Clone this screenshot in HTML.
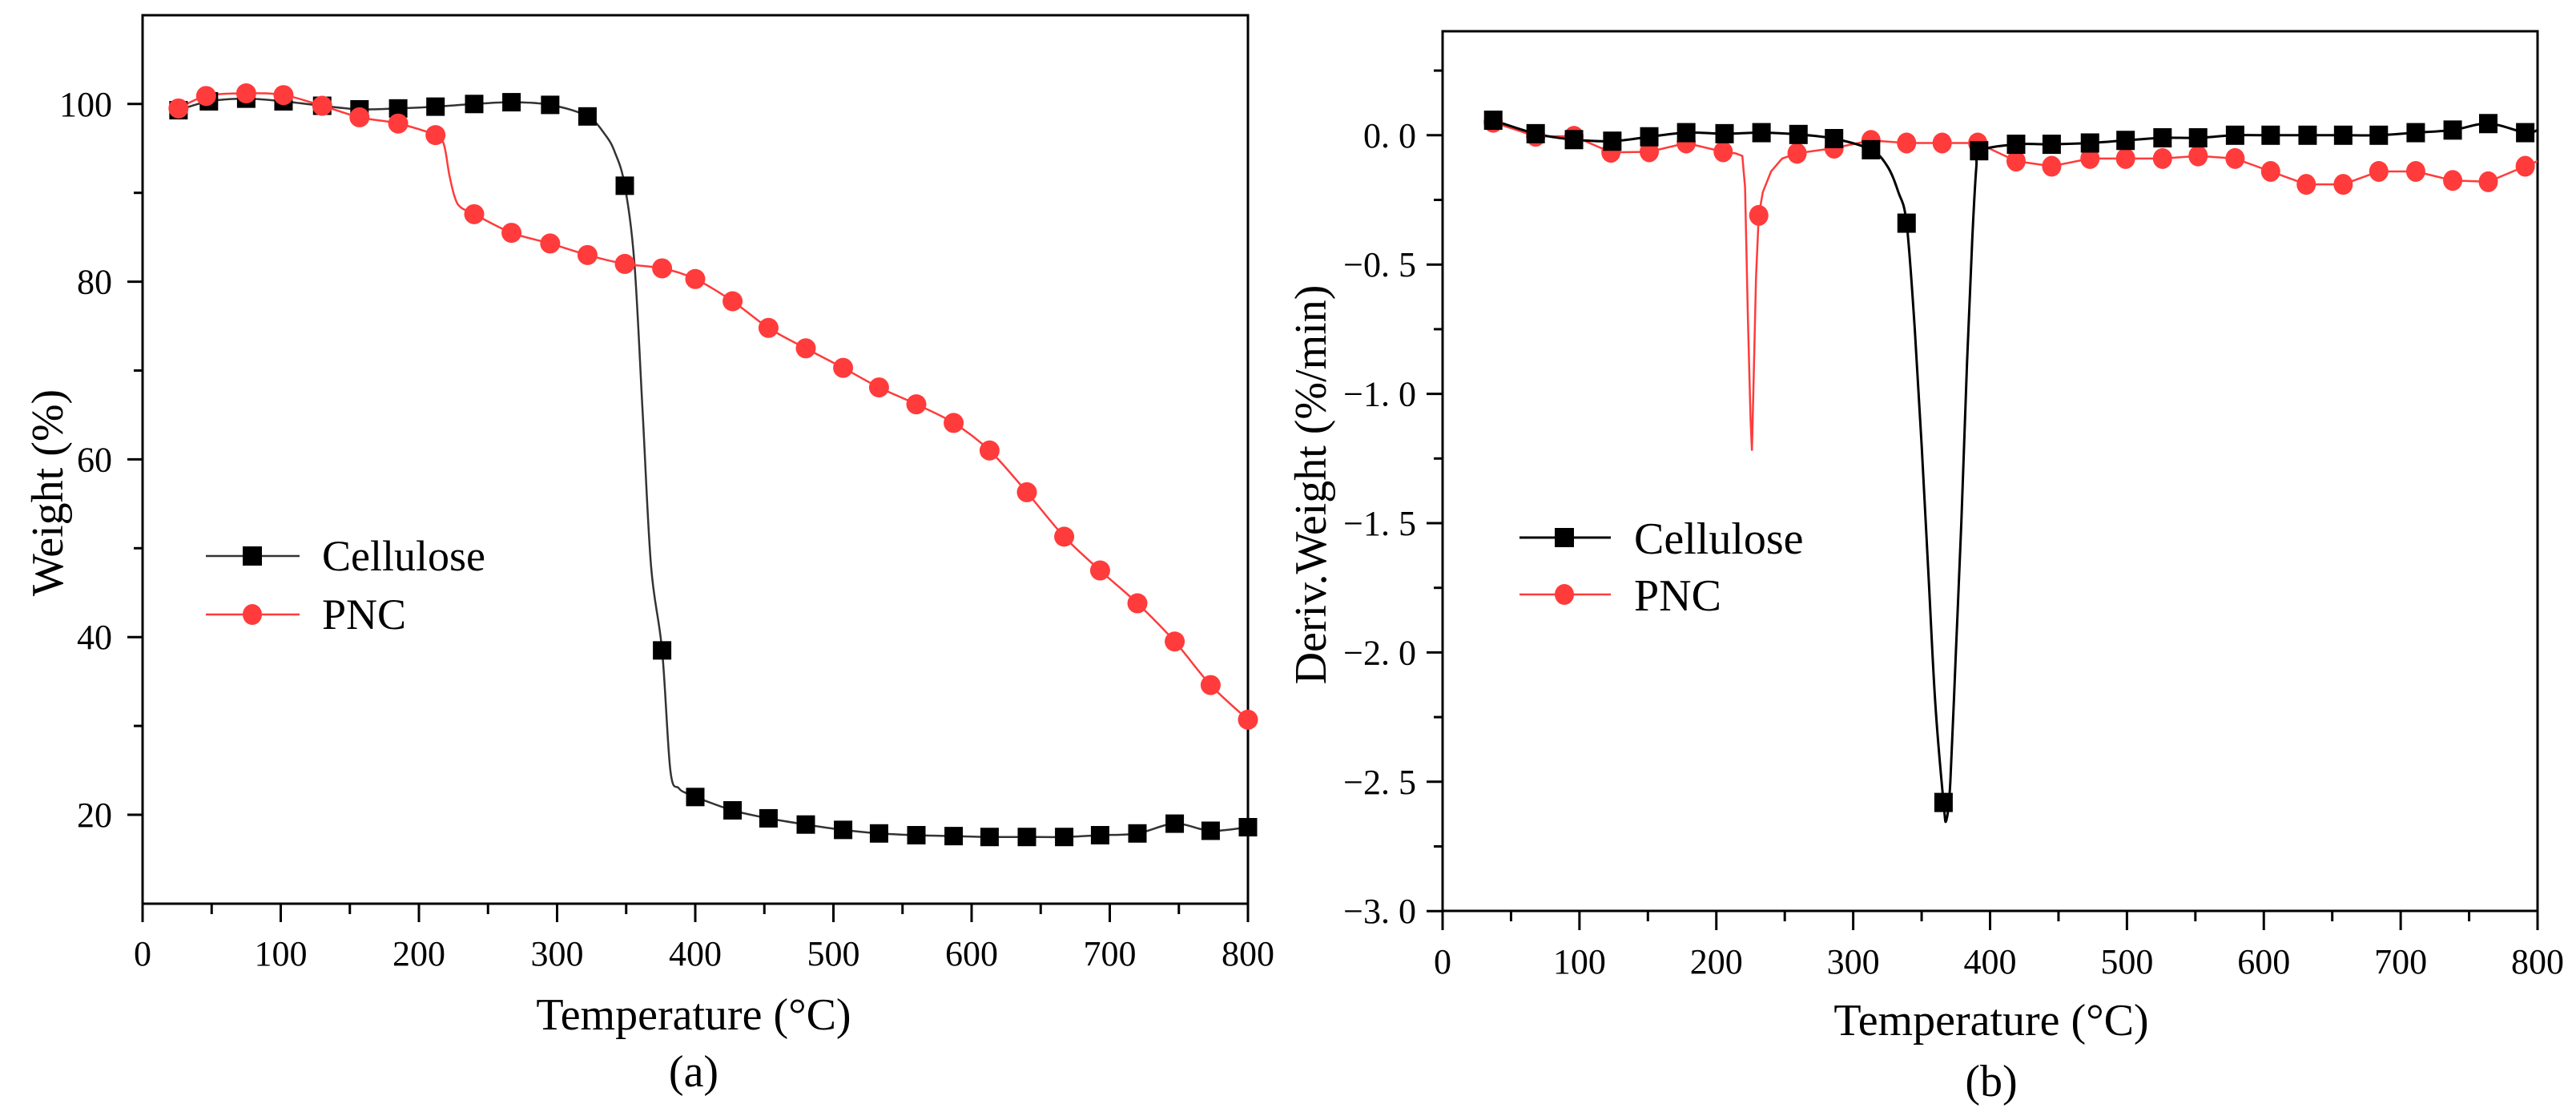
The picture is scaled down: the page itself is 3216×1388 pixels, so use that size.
<!DOCTYPE html>
<html><head><meta charset="utf-8"><style>
html,body{margin:0;padding:0;background:#fff;}
svg{display:block;}
svg text{font-family:"Liberation Serif","Noto Serif CJK SC",serif;fill:#000;}
</style></head><body>
<svg id="fig" width="3216" height="1388" viewBox="0 0 3216 1388" xmlns="http://www.w3.org/2000/svg" font-family="Liberation Serif, Noto Serif CJK SC, serif">
<g id="pa"></g>
<g id="pb"></g>
</svg>
<script>
// ---------- Panel (a) data ----------
const aCellT = [26,48,75,102,130,157,185,212,240,267,295,322,349,376,400,427,453,480,507,533,560,587,613,640,667,693,720,747,773,800];
const aCellW = [99.3,100.3,100.6,100.3,99.8,99.4,99.5,99.7,100,100.2,99.9,98.6,90.8,38.5,22,20.5,19.6,18.9,18.3,17.9,17.7,17.6,17.5,17.5,17.5,17.7,17.9,19,18.2,18.6];
const aCellExtraT = [335,342,356,362,368,382,388,394];
const aCellExtraW = [96.5,94.5,82,65,48,25,23,22.4];
const aPncT = [26,46,75,102,130,157,185,212,240,267,295,322,349,376,400,427,453,480,507,533,560,587,613,640,667,693,720,747,773,800];
const aPncW = [99.5,100.9,101.2,101,99.8,98.5,97.8,96.5,87.6,85.5,84.3,83,82,81.5,80.3,77.8,74.8,72.5,70.3,68.1,66.2,64.1,61,56.3,51.3,47.5,43.8,39.5,34.6,30.7];
const aPncExtraT = [218,222,226,230];
const aPncExtraW = [95.5,92,89.5,88.4];
const aXTicks = [0,100,200,300,400,500,600,700,800];
const aYTicks = [20,40,60,80,100];

// ---------- Panel (b) data ----------
const bCellT = [37,68,96,124,151,178,206,233,260,286,313,339,366,392,419,445,473,499,526,552,579,605,632,658,684,711,738,764,791];
const bCellD = [0.058,0.006,-0.017,-0.023,-0.006,0.01,0.006,0.01,0.003,-0.013,-0.056,-0.34,-2.58,-0.06,-0.035,-0.035,-0.03,-0.02,-0.01,-0.01,0,0,0,0,0,0.01,0.02,0.045,0.01];
const bCellExtraT = [325,333,345,350,355,360,368,371,375,379,383,387,390,800];
const bCellExtraD = [-0.12,-0.22,-0.75,-1.2,-1.7,-2.2,-2.65,-2.5,-2.0,-1.5,-0.9,-0.4,-0.12,0.02];
const bPncT = [37,68,96,123,151,178,205,231,259,286,313,339,365,391,419,445,473,499,526,552,579,605,631,658,684,711,738,764,791];
const bPncD = [0.05,-0.004,-0.004,-0.066,-0.064,-0.03,-0.064,-0.31,-0.07,-0.05,-0.02,-0.03,-0.03,-0.03,-0.1,-0.12,-0.09,-0.09,-0.09,-0.08,-0.09,-0.14,-0.19,-0.19,-0.14,-0.14,-0.175,-0.18,-0.12];
const bPncExtraT = [214,219,221,223,225,226,227,229,234,240,248,800];
const bPncExtraD = [-0.07,-0.08,-0.2,-0.7,-1.1,-1.22,-1.0,-0.55,-0.22,-0.14,-0.09,-0.1];
const bXTicks = [0,100,200,300,400,500,600,700,800];
const bYTicks = [0,-0.5,-1,-1.5,-2,-2.5,-3];
const bYLabels = ["0. 0","\u22120. 5","\u22121. 0","\u22121. 5","\u22122. 0","\u22122. 5","\u22123. 0"];

const NS = "http://www.w3.org/2000/svg";
const RED = "#ff3b3b";
const FF = "Liberation Serif, Noto Serif CJK SC, serif";
function mk(parent, tag, attrs, txt){
  const e = document.createElementNS(NS, tag);
  for (const k in attrs) e.setAttribute(k, attrs[k]);
  if (tag === 'text') e.setAttribute('font-family', FF);
  if (txt !== undefined) e.textContent = txt;
  parent.appendChild(e);
  return e;
}
function merge(t1,v1,t2,v2){
  const pts = t1.map((t,i)=>[t,v1[i]]).concat(t2.map((t,i)=>[t,v2[i]]));
  pts.sort((a,b)=>a[0]-b[0]);
  return pts;
}
function smoothPath(pts, X, Y){
  const p = pts.map(q=>[X(q[0]),Y(q[1])]);
  let d = "M"+p[0][0].toFixed(1)+","+p[0][1].toFixed(1);
  for (let i=0;i<p.length-1;i++){
    const p0=p[Math.max(0,i-1)], p1=p[i], p2=p[i+1], p3=p[Math.min(p.length-1,i+2)];
    const t=1/6;
    const c1=[p1[0]+(p2[0]-p0[0])*t, p1[1]+(p2[1]-p0[1])*t];
    const c2=[p2[0]-(p3[0]-p1[0])*t, p2[1]-(p3[1]-p1[1])*t];
    d+=" C"+c1[0].toFixed(1)+","+c1[1].toFixed(1)+" "+c2[0].toFixed(1)+","+c2[1].toFixed(1)+" "+p2[0].toFixed(1)+","+p2[1].toFixed(1);
  }
  return d;
}

// ================= Panel A =================
(function(){
  const g = document.getElementById('pa');
  const L=178, R=1558, T=19, B=1128;
  const X = t => L + (t-0)/800*(R-L);
  const Y = v => 1017 - (v-20)*11.09;
  const frame = mk(g,'rect',{x:L,y:T,width:R-L,height:B-T,fill:'none',stroke:'#000','stroke-width':3});
  
  
  for (let t=0;t<=800;t+=50){
    const maj = t%100===0;
    const tk = mk(g,'line',{x1:X(t),x2:X(t),y1:B,y2:B+(maj?23:13),stroke:'#000','stroke-width':3});
    
    
  }
  aXTicks.forEach(t=>{
    const lb = mk(g,'text',{x:X(t),y:1205,'font-size':44,'text-anchor':'middle'},String(t));
    
    
  });
  for (let v=20; v<=100; v+=10){
    const maj = v%20===0;
    const tk = mk(g,'line',{x1:L,x2:L-(maj?19:11),y1:Y(v),y2:Y(v),stroke:'#000','stroke-width':3});
    
    
  }
  aYTicks.forEach(v=>{
    const lb = mk(g,'text',{x:140,y:Y(v)+15,'font-size':44,'text-anchor':'end'},String(v));
    
    
  });
  const xt = mk(g,'text',{x:866,y:1285,'font-size':56,'text-anchor':'middle'},'Temperature (°C)');
  
  
  const cap = mk(g,'text',{x:866,y:1356,'font-size':56,'text-anchor':'middle'},'(a)');
  
  
  const yt = mk(g,'text',{x:0,y:0,'font-size':56,'text-anchor':'middle',transform:'translate(78,615) rotate(-90)'},'Weight (%)');
  
  

  const cellLine = mk(g,'path',{d:smoothPath(merge(aCellT,aCellW,aCellExtraT,aCellExtraW),X,Y),fill:'none',stroke:'#333','stroke-width':2.5});
  
  
  const pncLine = mk(g,'path',{d:smoothPath(merge(aPncT,aPncW,aPncExtraT,aPncExtraW),X,Y),fill:'none',stroke:RED,'stroke-width':2.5});
  
  
  aCellT.forEach((t,i)=>{
    const m = mk(g,'rect',{x:X(t)-11.5,y:Y(aCellW[i])-11.5,width:23,height:23,fill:'#000'});
    
    
  });
  aPncT.forEach((t,i)=>{
    const m = mk(g,'circle',{cx:X(t),cy:Y(aPncW[i]),r:12.5,fill:RED});
    
    
  });
  const lg = mk(g,'g',{});
  
  
  mk(lg,'line',{x1:257,x2:374,y1:694,y2:694,stroke:'#333','stroke-width':2.5});
  mk(lg,'rect',{x:303,y:682,width:24,height:24,fill:'#000'});
  const l1 = mk(lg,'text',{x:402,y:712,'font-size':54},'Cellulose');
  
  
  mk(lg,'line',{x1:257,x2:374,y1:767,y2:767,stroke:RED,'stroke-width':2.5});
  mk(lg,'ellipse',{cx:315,cy:767,rx:12,ry:13,fill:RED});
  const l2 = mk(lg,'text',{x:402,y:785,'font-size':54},'PNC');
  
  
})();

// ================= Panel B =================
(function(){
  const g = document.getElementById('pb');
  const L=1801, R=3168, T=39, B=1137;
  const X = t => L + t/800*(R-L);
  const Y = v => 168.8 - v*322.8;
  const frame = mk(g,'rect',{x:L,y:T,width:R-L,height:B-T,fill:'none',stroke:'#000','stroke-width':3});
  
  
  for (let t=0;t<=800;t+=50){
    const maj = t%100===0;
    const tk = mk(g,'line',{x1:X(t),x2:X(t),y1:B,y2:B+(maj?24:13),stroke:'#000','stroke-width':3});
    
    
  }
  bXTicks.forEach(t=>{
    const lb = mk(g,'text',{x:X(t),y:1215,'font-size':44,'text-anchor':'middle'},String(t));
    
    
  });
  for (let k=-12;k<=1;k++){
    const v=k*0.25;
    const maj = k%2===0;
    const tk = mk(g,'line',{x1:L,x2:L-(maj?20:11),y1:Y(v),y2:Y(v),stroke:'#000','stroke-width':3});
    
    
  }
  bYTicks.forEach((v,i)=>{
    const lb = mk(g,'text',{x:1768,y:Y(v)+15,'font-size':44,'text-anchor':'end'},bYLabels[i]);
    
    
  });
  const xt = mk(g,'text',{x:2486,y:1292,'font-size':56,'text-anchor':'middle'},'Temperature (°C)');
  
  
  const cap = mk(g,'text',{x:2486,y:1368,'font-size':56,'text-anchor':'middle'},'(b)');
  
  
  const yt = mk(g,'text',{x:0,y:0,'font-size':56,'text-anchor':'middle',transform:'translate(1655,605) rotate(-90)'},'Deriv.Weight  (%/min)');
  
  

  const pncPts = merge(bPncT,bPncD,bPncExtraT,bPncExtraD);
  const pncLine = mk(g,'polyline',{points:pncPts.map(p=>X(p[0]).toFixed(1)+','+Y(p[1]).toFixed(1)).join(' '),fill:'none',stroke:RED,'stroke-width':2.5});
  
  
  const cellPts = merge(bCellT,bCellD,bCellExtraT,bCellExtraD);
  const cellLine = mk(g,'path',{d:smoothPath(cellPts,X,Y),fill:'none',stroke:'#000','stroke-width':3});
  
  
  bPncT.forEach((t,i)=>{
    const m = mk(g,'ellipse',{cx:X(t),cy:Y(bPncD[i]),rx:12,ry:13,fill:RED});
    
    
  });
  bCellT.forEach((t,i)=>{
    const m = mk(g,'rect',{x:X(t)-11.5,y:Y(bCellD[i])-12,width:23,height:24,fill:'#000'});
    
    
  });
  const lg = mk(g,'g',{});
  
  
  mk(lg,'line',{x1:1897,x2:2011,y1:671,y2:671,stroke:'#000','stroke-width':3});
  mk(lg,'rect',{x:1941,y:659,width:24,height:24,fill:'#000'});
  const l1 = mk(lg,'text',{x:2040,y:691,'font-size':56},'Cellulose');
  
  
  mk(lg,'line',{x1:1897,x2:2011,y1:742,y2:742,stroke:RED,'stroke-width':2.5});
  mk(lg,'ellipse',{cx:1953,cy:742,rx:12,ry:13,fill:RED});
  const l2 = mk(lg,'text',{x:2040,y:762,'font-size':56},'PNC');
  
  
})();
</script>
</body></html>
